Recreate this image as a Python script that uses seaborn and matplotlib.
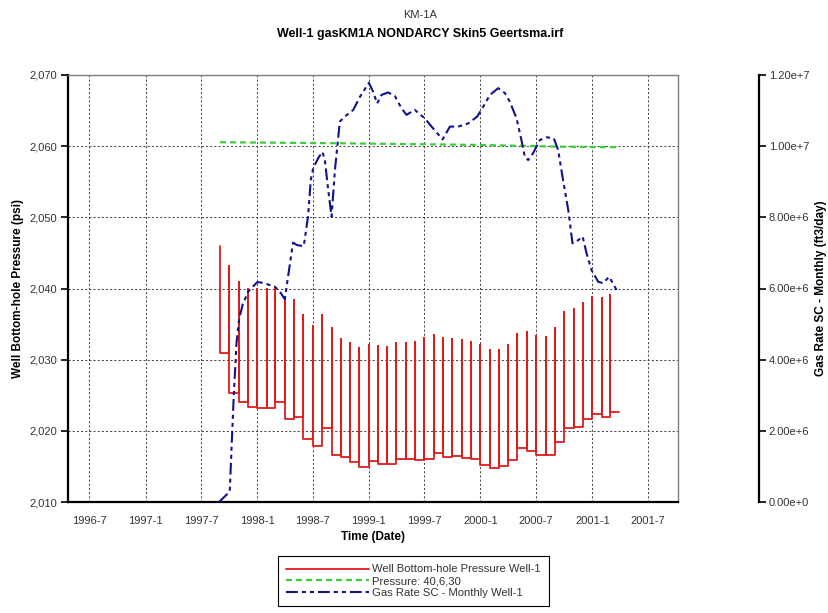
import pandas as pd
import matplotlib
matplotlib.use("Agg")
import matplotlib.pyplot as plt
import matplotlib.dates as mdates
from matplotlib.ticker import FuncFormatter, MultipleLocator
import seaborn as sns

sns.set_style("white")
plt.rcParams["font.family"] = ["Liberation Sans", "DejaVu Sans"]
plt.rcParams["lines.scale_dashes"] = False

# ---- Well bottom-hole pressure (psi): monthly start value and flowing level ----
bhp_start = "1997-09-01"
bhp_stop = "2001-03-01"
bhp_end = "2001-03-28"
bhp_high = [2046.0, 2043.2, 2040.9, 2039.9, 2039.9, 2039.9, 2040.2, 2038.6, 2038.4, 2036.3,
            2034.8, 2036.3, 2034.4, 2032.9, 2032.3, 2031.7, 2032.0, 2031.9, 2031.8, 2032.4,
            2032.4, 2032.5, 2033.0, 2033.4, 2033.0, 2032.9, 2032.8, 2032.5, 2032.1, 2031.4,
            2031.4, 2032.1, 2033.6, 2033.9, 2033.3, 2033.2, 2034.4, 2036.7, 2037.1, 2037.9,
            2038.8, 2038.7, 2039.1]
bhp_low = [2030.9, 2025.3, 2024.0, 2023.3, 2023.2, 2023.2, 2024.0, 2021.6, 2021.9, 2018.8,
           2017.9, 2020.4, 2016.6, 2016.3, 2015.6, 2014.9, 2015.7, 2015.3, 2015.3, 2016.0,
           2016.0, 2015.9, 2016.1, 2016.9, 2016.3, 2016.5, 2016.2, 2016.0, 2015.2, 2014.8,
           2015.0, 2015.9, 2017.6, 2017.2, 2016.6, 2016.6, 2018.4, 2020.4, 2020.5, 2021.6,
           2022.4, 2021.9, 2022.7]

# ---- Reference pressure "Pressure: 40,6,30" (psi) ----
ref_dates = ["1997-09-01", "1998-09-28", "2000-01-01", "2000-09-17", "2001-03-28"]
ref_psi = [2060.55, 2060.41, 2060.17, 2059.93, 2059.85]

# ---- Gas rate SC - monthly (ft3/day) ----
rate_dates = ["1997-08-29", "1997-10-03", "1997-10-09", "1997-10-16", "1997-10-25", "1997-11-03",
              "1997-11-14", "1997-12-02", "1998-01-01", "1998-01-20", "1998-02-27", "1998-03-16",
              "1998-04-01", "1998-04-28", "1998-05-11", "1998-06-02", "1998-06-16", "1998-06-25",
              "1998-07-03", "1998-07-19", "1998-08-02", "1998-08-10", "1998-08-21", "1998-09-01",
              "1998-09-12", "1998-09-28", "1998-10-14", "1998-11-11", "1998-12-03", "1999-01-01",
              "1999-01-15", "1999-01-28", "1999-02-11", "1999-03-05", "1999-03-27", "1999-04-18",
              "1999-05-04", "1999-05-31", "1999-07-03", "1999-07-30", "1999-08-30", "1999-09-23",
              "1999-10-20", "1999-11-22", "1999-12-21", "2000-01-10", "2000-02-01", "2000-02-28",
              "2000-03-21", "2000-04-06", "2000-04-28", "2000-05-14", "2000-05-25", "2000-06-05",
              "2000-06-21", "2000-07-13", "2000-08-04", "2000-08-28", "2000-09-11", "2000-09-27",
              "2000-10-14", "2000-10-28", "2000-11-16", "2000-11-30", "2000-12-13", "2000-12-29",
              "2001-01-20", "2001-02-05", "2001-02-25", "2001-03-21"]
rate_values = [0.00e6, 0.29e6, 1.55e6, 2.96e6, 4.46e6, 5.16e6,
               5.54e6, 5.91e6, 6.18e6, 6.16e6, 6.05e6, 5.91e6,
               5.70e6, 7.29e6, 7.22e6, 7.19e6, 8.02e6, 9.05e6,
               9.38e6, 9.66e6, 9.84e6, 9.61e6, 8.77e6, 8.02e6,
               9.33e6, 10.69e6, 10.83e6, 11.02e6, 11.39e6, 11.78e6,
               11.53e6, 11.20e6, 11.44e6, 11.51e6, 11.41e6, 11.06e6,
               10.88e6, 11.02e6, 10.78e6, 10.50e6, 10.19e6, 10.55e6,
               10.55e6, 10.64e6, 10.83e6, 11.11e6, 11.44e6, 11.63e6,
               11.49e6, 11.25e6, 10.78e6, 10.17e6, 9.70e6, 9.61e6,
               9.80e6, 10.17e6, 10.25e6, 10.22e6, 9.89e6, 9.05e6,
               8.21e6, 7.27e6, 7.36e6, 7.46e6, 6.99e6, 6.52e6,
               6.19e6, 6.15e6, 6.33e6, 5.96e6]

x_ticks = ["1996-07-01", "1997-01-01", "1997-07-01", "1998-01-01", "1998-07-01", "1999-01-01",
           "1999-07-01", "2000-01-01", "2000-07-01", "2001-01-01", "2001-07-01"]

RED = "#e11b1b"
GREEN = "#3ccf3c"
BLUE = "#12128c"
TXT = "#333333"

# Build the saw-tooth path: at each month the pressure starts high and drops to the flowing level
months = pd.date_range(bhp_start, bhp_stop, freq="MS")
px, py = [], []
for i, (t, hi, lo) in enumerate(zip(months, bhp_high, bhp_low)):
    if i > 0:
        px.append(t)
        py.append(bhp_low[i - 1])
    px += [t, t]
    py += [hi, lo]
px.append(pd.Timestamp(bhp_end))
py.append(bhp_low[-1])
bhp = pd.DataFrame({"date": px, "psi": py})
ref = pd.DataFrame({"date": pd.to_datetime(ref_dates), "psi": ref_psi})
rate = pd.DataFrame({"date": pd.to_datetime(rate_dates), "rate": rate_values})

W, H = 829, 613
fig = plt.figure(figsize=(W / 100, H / 100), dpi=100)
L, R, T, B = 68, 678, 75, 502
ax = fig.add_axes([L / W, 1 - B / H, (R - L) / W, (B - T) / H])

sns.lineplot(data=bhp, x="date", y="psi", estimator=None, sort=False, color=RED,
             lw=1.3, ax=ax, label="Well Bottom-hole Pressure Well-1", legend=False)
sns.lineplot(data=ref, x="date", y="psi", estimator=None, sort=False, color=GREEN,
             lw=1.6, ax=ax, label="Pressure: 40,6,30", legend=False)
ax.lines[-1].set_dashes((4.3, 2.9))

ax.set_xlim(pd.Timestamp("1996-04-22"), pd.Timestamp("2001-10-08"))
ax.set_ylim(2010, 2070)
ax.yaxis.set_major_locator(MultipleLocator(10))
ax.yaxis.set_major_formatter(FuncFormatter(lambda v, p: f"{v:,.0f}"))
ax.set_xticks(pd.to_datetime(x_ticks))
ax.xaxis.set_major_formatter(FuncFormatter(
    lambda v, p: f"{mdates.num2date(v).year}-{mdates.num2date(v).month}"))

ax.grid(True, color="#4a4a4a", linestyle=(0, (1.5, 1.5)), linewidth=0.75)
for s in ("left", "bottom"):
    ax.spines[s].set_color("black")
    ax.spines[s].set_linewidth(1.6)
for s in ("top", "right"):
    ax.spines[s].set_color("#808080")
    ax.spines[s].set_linewidth(1.0)
ax.tick_params(axis="both", direction="out", length=5, width=1.2, color="black",
               labelsize=8, labelcolor=TXT, pad=3)
ax.tick_params(axis="x", length=6, pad=4)

ax.set_xlabel("Time (Date)", fontsize=8.5, fontweight="bold", color="black", labelpad=4)
ax.set_ylabel("Well Bottom-hole Pressure (psi)", fontsize=8.5, fontweight="bold", color="black",
              va="center")
ax.yaxis.set_label_coords((18 - L) / (R - L), 0.5)

# Gas rate on its own axis, offset to the right of the plot
ax2 = ax.twinx()
sns.lineplot(data=rate, x="date", y="rate", estimator=None, sort=False, color=BLUE,
             lw=1.5, ax=ax2, label="Gas Rate SC - Monthly Well-1", legend=False)
ax2.lines[-1].set_dashes((8.5, 2.9, 2.9, 2.9, 2.9, 2.9))
ax2.set_ylim(0, 1.2e7)
ax2.yaxis.set_major_locator(MultipleLocator(2e6))


def sci(v, p):
    mant, exp = f"{v:.2e}".split("e")
    return f"{mant}e{exp[0]}{int(exp[1:])}"


ax2.yaxis.set_major_formatter(FuncFormatter(sci))
for s in ("top", "left", "bottom"):
    ax2.spines[s].set_visible(False)
ax2.spines["right"].set_position(("axes", (759 - L) / (R - L)))
ax2.spines["right"].set_color("black")
ax2.spines["right"].set_linewidth(1.6)
ax2.tick_params(axis="y", direction="out", length=5, width=1.2, color="black",
                labelsize=8, labelcolor=TXT, pad=2)
ax2.set_ylabel("Gas Rate SC - Monthly (ft3/day)", fontsize=8.5, fontweight="bold",
               color="black", va="center")
ax2.yaxis.set_label_coords((821 - L) / (R - L), 0.5)
ax2.grid(False)
ax2.set_xlabel("")

fig.text(420 / W, 1 - 15.5 / H, "KM-1A", ha="center", va="center", fontsize=8, color=TXT)
fig.text(420 / W, 1 - 34 / H, "Well-1 gasKM1A NONDARCY Skin5 Geertsma.irf", ha="center",
         va="center", fontsize=9, fontweight="bold", color="black")

handles = [ax.lines[0], ax.lines[1], ax2.lines[0]]
leg = fig.legend(handles, [h.get_label() for h in handles], loc="upper left",
                 bbox_to_anchor=(278 / W, 1 - 556 / H), bbox_transform=fig.transFigure,
                 fontsize=8.1, handlelength=7.3, handletextpad=0.3, labelspacing=0.15,
                 borderpad=0.75, borderaxespad=0, fancybox=False, framealpha=1)
leg.get_frame().set_edgecolor("black")
leg.get_frame().set_linewidth(0.8)
for t in leg.get_texts():
    t.set_color(TXT)

fig.savefig("out.png", dpi=100)
